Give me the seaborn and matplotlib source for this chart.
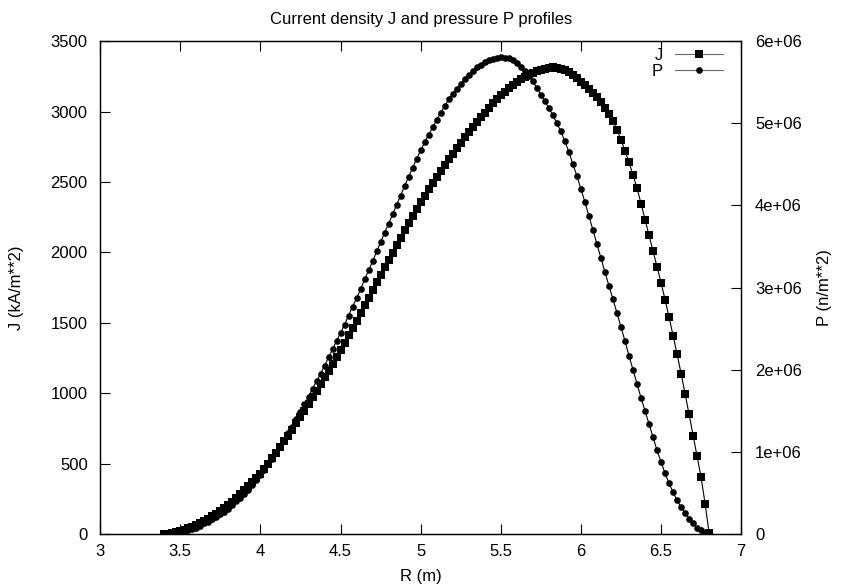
import numpy as np
import pandas as pd
import seaborn as sns
import matplotlib
matplotlib.use('Agg')
import matplotlib.pyplot as plt
from matplotlib.ticker import FuncFormatter, MultipleLocator

# major radius grid (m)
R = [3.400, 3.425, 3.450, 3.475, 3.500, 3.525, 3.550, 3.575, 3.600, 3.625,
     3.650, 3.675, 3.700, 3.725, 3.750, 3.775, 3.800, 3.825, 3.850, 3.875,
     3.900, 3.925, 3.950, 3.975, 4.000, 4.025, 4.050, 4.075, 4.100, 4.125,
     4.150, 4.175, 4.200, 4.225, 4.250, 4.275, 4.300, 4.325, 4.350, 4.375,
     4.400, 4.425, 4.450, 4.475, 4.500, 4.525, 4.550, 4.575, 4.600, 4.625,
     4.650, 4.675, 4.700, 4.725, 4.750, 4.775, 4.800, 4.825, 4.850, 4.875,
     4.900, 4.925, 4.950, 4.975, 5.000, 5.025, 5.050, 5.075, 5.100, 5.125,
     5.150, 5.175, 5.200, 5.225, 5.250, 5.275, 5.300, 5.325, 5.350, 5.375,
     5.400, 5.425, 5.450, 5.475, 5.500, 5.525, 5.550, 5.575, 5.600, 5.625,
     5.650, 5.675, 5.700, 5.725, 5.750, 5.775, 5.800, 5.825, 5.850, 5.875,
     5.900, 5.925, 5.950, 5.975, 6.000, 6.025, 6.050, 6.075, 6.100, 6.125,
     6.150, 6.175, 6.200, 6.225, 6.250, 6.275, 6.300, 6.325, 6.350, 6.375,
     6.400, 6.425, 6.450, 6.475, 6.500, 6.525, 6.550, 6.575, 6.600, 6.625,
     6.650, 6.675, 6.700, 6.725, 6.750, 6.775, 6.800]

# current density J (kA/m**2)
J = [0, 4, 10, 17, 25, 33, 42, 53, 66, 80,
     95, 110, 126, 145, 165, 185, 207, 231, 256, 283,
     312, 340, 368, 397, 427, 463, 500, 539, 578, 618,
     658, 700, 742, 786, 830, 877, 924, 971, 1019, 1066,
     1113, 1160, 1208, 1257, 1306, 1358, 1411, 1463, 1516, 1570,
     1624, 1678, 1733, 1787, 1841, 1894, 1946, 1998, 2051, 2104,
     2156, 2207, 2258, 2307, 2356, 2403, 2450, 2494, 2538, 2580,
     2622, 2662, 2702, 2741, 2779, 2816, 2853, 2888, 2923, 2958,
     2993, 3026, 3059, 3088, 3115, 3140, 3164, 3188, 3210, 3230,
     3248, 3263, 3276, 3287, 3297, 3305, 3311, 3313, 3311, 3304,
     3294, 3278, 3259, 3237, 3213, 3188, 3161, 3132, 3101, 3066,
     3028, 2983, 2933, 2870, 2800, 2722, 2639, 2550, 2457, 2347,
     2233, 2121, 2009, 1897, 1785, 1665, 1540, 1410, 1278, 1140,
     998, 850, 700, 552, 403, 215, 5]

# pressure P (units of 1e6 n/m**2)
P = [0.00, 0.00, 0.01, 0.01, 0.02, 0.04, 0.05, 0.06, 0.08, 0.10,
     0.13, 0.15, 0.18, 0.21, 0.24, 0.27, 0.31, 0.35, 0.40, 0.44,
     0.49, 0.54, 0.60, 0.66, 0.72, 0.78, 0.85, 0.92, 1.00, 1.07,
     1.15, 1.23, 1.31, 1.40, 1.49, 1.58, 1.67, 1.77, 1.86, 1.95,
     2.05, 2.15, 2.25, 2.35, 2.45, 2.55, 2.66, 2.77, 2.87, 2.98,
     3.10, 3.21, 3.32, 3.44, 3.55, 3.67, 3.78, 3.89, 4.01, 4.12,
     4.24, 4.35, 4.46, 4.57, 4.67, 4.77, 4.86, 4.95, 5.04, 5.13,
     5.21, 5.29, 5.36, 5.42, 5.48, 5.54, 5.59, 5.64, 5.68, 5.71,
     5.74, 5.77, 5.78, 5.80, 5.81, 5.80, 5.79, 5.77, 5.73, 5.69,
     5.63, 5.58, 5.51, 5.43, 5.35, 5.27, 5.18, 5.10, 5.00, 4.90,
     4.78, 4.65, 4.50, 4.36, 4.20, 4.04, 3.87, 3.70, 3.53, 3.36,
     3.19, 3.02, 2.86, 2.69, 2.52, 2.35, 2.17, 2.00, 1.83, 1.66,
     1.50, 1.34, 1.18, 1.02, 0.88, 0.74, 0.62, 0.51, 0.41, 0.33,
     0.26, 0.19, 0.13, 0.08, 0.05, 0.02, 0.00]

df = pd.DataFrame({'R': R, 'J': J, 'P': np.array(P) * 1e6})

sns.set_style('ticks')
plt.rcParams['font.family'] = ['Liberation Sans', 'DejaVu Sans']
plt.rcParams['font.size'] = 12
for key in ('text.color', 'axes.labelcolor', 'xtick.color', 'ytick.color'):
    plt.rcParams[key] = 'black'

fig = plt.figure(figsize=(8.49, 5.87), dpi=100)
ax = fig.add_axes([0.118, 0.090, 0.755, 0.840])
ax2 = ax.twinx()

sns.lineplot(data=df, x='R', y='J', ax=ax, color='black', linewidth=0.8,
             marker='s', markersize=6, markeredgewidth=0, label='J', legend=False)
sns.lineplot(data=df, x='R', y='P', ax=ax2, color='black', linewidth=0.8,
             marker='o', markersize=4.8, markeredgewidth=0, label='P', legend=False)

ax.set_xlim(3, 7)
ax.set_ylim(0, 3500)
ax2.set_ylim(0, 6e6)
ax.xaxis.set_major_locator(MultipleLocator(0.5))
ax.yaxis.set_major_locator(MultipleLocator(500))
ax2.yaxis.set_major_locator(MultipleLocator(1e6))
fmt = FuncFormatter(lambda v, pos: '%g' % v)
ax.xaxis.set_major_formatter(fmt)
ax2.yaxis.set_major_formatter(fmt)

ax.tick_params(axis='x', direction='in', top=True, length=7, width=0.8, pad=7)
ax.tick_params(axis='y', direction='in', length=7, width=0.8, pad=9)
ax2.tick_params(axis='y', direction='in', length=7, width=0.8, pad=10)
for a in (ax, ax2):
    for s in a.spines.values():
        s.set_visible(True)
        s.set_linewidth(0.9)
        s.set_color('black')

ax.set_title('Current density J and pressure P profiles', fontsize=12, pad=12)
ax.set_xlabel('R (m)')
ax.set_ylabel('J (kA/m**2)')
ax2.set_ylabel('P (n/m**2)')
ax.xaxis.set_label_coords(0.5, -0.070)
ax.yaxis.set_label_coords(-0.119, 0.5)
ax2.yaxis.set_label_coords(1.118, 0.5)

h1 = ax.get_lines()[0]
h2 = ax2.get_lines()[0]
leg = ax2.legend([h1, h2], ['J', 'P'], loc='upper right', frameon=False,
                 markerfirst=False, handlelength=2.9, handletextpad=0.7,
                 labelspacing=0.05, borderaxespad=0.0, bbox_to_anchor=(0.982, 1.0))
for line in leg.get_lines():
    line.set_color('#666666')
    line.set_markerfacecolor('black')

fig.savefig('out.png', dpi=100)
